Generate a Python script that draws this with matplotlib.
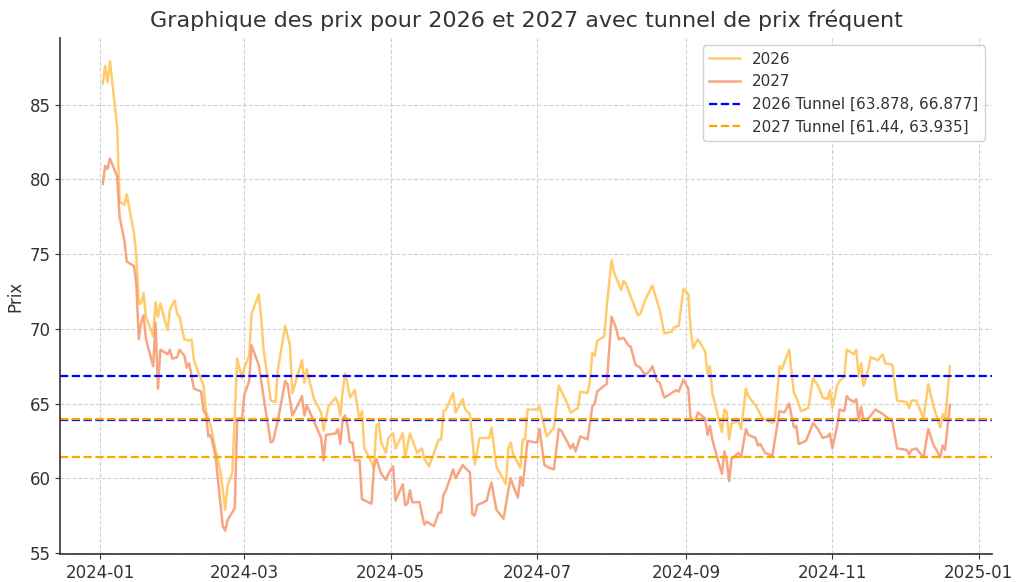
import matplotlib
matplotlib.use("Agg")
import matplotlib.pyplot as plt
import matplotlib.dates as mdates
import pandas as pd

# jours depuis le 2024-01-01 et prix
jours_2026 = [1, 2, 3, 4, 7, 8, 10, 11, 14, 15, 16, 17, 18, 19, 22, 23, 24, 25, 28, 29,
              31, 32, 33, 35, 37, 38, 39, 41, 43, 44, 46, 48, 50, 52, 53, 55, 57, 59, 60, 62,
              63, 66, 67, 68, 70, 71, 73, 74, 77, 79, 80, 82, 84, 85, 86, 87, 89, 92, 93, 94,
              95, 98, 99, 100, 101, 102, 103, 104, 106, 108, 109, 110, 112, 114, 115, 116, 117, 119, 120, 122,
              123, 126, 127, 129, 132, 134, 135, 137, 141, 142, 143, 144, 147, 148, 151, 152, 154, 156, 158, 162,
              163, 165, 169, 170, 171, 172, 175, 176, 177, 178, 182, 183, 186, 189, 191, 194, 196, 199, 200, 203,
              204, 205, 206, 207, 210, 211, 213, 214, 217, 218, 219, 224, 225, 227, 230, 233, 235, 238, 239, 241,
              243, 245, 246, 247, 249, 252, 253, 254, 255, 257, 259, 260, 261, 262, 263, 266, 267, 269, 270, 273,
              274, 276, 280, 281, 283, 284, 287, 289, 290, 292, 295, 297, 299, 301, 303, 304, 305, 307, 308, 310,
              311, 314, 315, 316, 317, 318, 320, 321, 324, 326, 327, 330, 332, 336, 337, 338, 340, 343, 345, 347,
              350, 351, 352, 354]
prix_2026 = [86.4, 87.6, 86.5, 87.9, 83.5, 78.5, 78.3, 79.0, 76.4, 74.8, 71.7, 71.7, 72.4, 70.8, 69.5, 71.8, 70.8, 71.7, 69.9, 71.3,
             71.9, 71.0, 70.8, 69.3, 69.2, 69.3, 67.9, 67.0, 66.2, 64.5, 63.5, 61.9, 60.5, 57.9, 59.5, 60.4, 68.0, 66.7, 67.4, 68.2,
             71.0, 72.3, 70.8, 68.6, 66.4, 65.2, 65.1, 67.3, 70.2, 68.9, 65.7, 66.8, 67.9, 66.4, 67.3, 66.6, 65.3, 64.4, 63.2, 64.0,
             64.8, 65.4, 65.0, 64.2, 65.9, 67.0, 66.3, 65.4, 65.9, 63.9, 64.5, 62.0, 61.4, 60.7, 63.5, 63.7, 62.4, 61.7, 62.7, 63.0,
             62.0, 63.0, 61.4, 63.0, 61.7, 62.0, 61.3, 60.8, 62.6, 62.6, 64.5, 64.6, 65.7, 64.4, 65.3, 64.6, 64.3, 60.9, 62.7, 62.7,
             63.4, 60.8, 59.6, 62.0, 62.4, 61.6, 60.7, 62.6, 62.6, 64.6, 64.6, 64.8, 62.8, 63.4, 66.2, 65.2, 64.4, 64.7, 65.8, 65.7,
             66.5, 68.4, 68.2, 69.2, 69.5, 71.5, 74.6, 73.8, 72.6, 73.2, 73.0, 70.9, 71.0, 71.9, 72.9, 71.3, 69.7, 69.8, 70.1, 70.2,
             72.7, 72.3, 69.9, 68.7, 69.3, 68.5, 67.0, 67.5, 65.7, 64.4, 63.1, 64.6, 64.4, 62.6, 63.7, 63.8, 63.3, 66.0, 65.5, 64.9,
             64.6, 64.0, 63.7, 63.8, 67.5, 67.3, 68.6, 65.7, 65.4, 64.5, 64.7, 66.7, 66.2, 65.4, 65.3, 65.9, 64.7, 66.2, 66.5, 66.8,
             68.6, 68.3, 68.6, 66.8, 67.7, 66.2, 67.3, 68.1, 67.9, 68.3, 67.7, 67.6, 65.2, 65.1, 64.7, 65.2, 65.2, 64.0, 66.3, 64.9,
             63.4, 64.3, 63.9, 67.5]

jours_2027 = [1, 2, 3, 4, 7, 8, 10, 11, 14, 15, 16, 17, 18, 19, 22, 23, 24, 25, 28, 29,
              30, 32, 33, 35, 36, 37, 39, 42, 43, 44, 45, 46, 48, 49, 51, 52, 53, 56, 57, 59,
              60, 62, 63, 65, 66, 69, 71, 72, 74, 77, 78, 80, 82, 84, 85, 86, 89, 92, 93, 94,
              98, 99, 100, 101, 102, 103, 104, 105, 106, 108, 109, 113, 114, 115, 117, 119, 120, 122, 123, 126,
              127, 128, 129, 130, 133, 134, 135, 136, 139, 141, 142, 143, 144, 147, 148, 149, 151, 152, 154, 155,
              156, 157, 161, 162, 163, 165, 168, 170, 171, 172, 174, 175, 176, 178, 181, 182, 183, 185, 187, 189,
              191, 192, 194, 196, 197, 198, 200, 203, 205, 206, 207, 210, 211, 213, 215, 216, 218, 220, 221, 223,
              225, 227, 229, 230, 232, 233, 235, 238, 240, 241, 243, 245, 246, 248, 249, 252, 253, 254, 255, 257,
              259, 260, 261, 262, 263, 266, 267, 269, 270, 273, 274, 275, 277, 280, 283, 285, 287, 289, 290, 291,
              294, 297, 299, 301, 303, 304, 305, 307, 308, 310, 311, 312, 314, 315, 316, 317, 318, 320, 323, 325,
              326, 330, 332, 336, 337, 338, 340, 343, 345, 347, 350, 351, 352, 354]
prix_2027 = [79.7, 80.9, 80.7, 81.4, 80.2, 77.5, 75.9, 74.5, 74.2, 73.0, 69.3, 70.4, 70.9, 69.3, 67.5, 70.4, 66.0, 68.6, 68.3, 68.6,
             68.0, 68.1, 68.6, 68.2, 67.4, 67.7, 66.0, 65.8, 64.5, 64.3, 62.8, 62.9, 61.5, 59.9, 56.8, 56.5, 57.2, 58.0, 64.0, 64.0,
             65.6, 66.5, 68.9, 68.0, 67.6, 64.4, 62.4, 62.5, 63.9, 66.5, 66.3, 64.2, 64.8, 65.5, 64.2, 64.9, 63.8, 62.7, 61.2, 62.9,
             63.0, 63.3, 62.3, 64.0, 64.2, 63.5, 62.4, 62.4, 61.2, 61.2, 58.6, 58.3, 60.8, 61.3, 60.3, 59.9, 60.3, 60.8, 58.5, 59.6,
             58.2, 58.3, 59.2, 58.4, 58.4, 57.6, 56.9, 57.1, 56.8, 57.7, 57.7, 58.9, 59.2, 60.6, 60.0, 60.3, 60.9, 60.7, 60.4, 57.6,
             57.5, 58.2, 58.5, 59.2, 59.7, 57.9, 57.3, 59.2, 60.0, 59.5, 58.7, 60.1, 59.5, 62.5, 62.4, 62.4, 63.3, 60.9, 60.7, 60.6,
             63.3, 63.2, 62.6, 62.0, 62.3, 61.8, 62.8, 62.6, 64.8, 65.0, 65.8, 66.2, 66.3, 70.8, 70.0, 69.3, 69.4, 68.9, 68.8, 67.6,
             67.4, 66.9, 67.2, 67.5, 66.5, 66.4, 65.4, 65.7, 65.9, 65.8, 66.6, 66.0, 63.9, 63.9, 64.4, 64.0, 62.9, 63.5, 62.6, 61.4,
             60.3, 61.8, 61.2, 59.8, 61.3, 61.7, 61.4, 63.3, 62.9, 62.7, 62.2, 62.3, 61.7, 61.5, 64.5, 64.4, 65.0, 63.4, 63.5, 62.3,
             62.5, 63.7, 63.3, 62.7, 62.8, 63.0, 62.0, 63.5, 64.6, 64.5, 65.5, 65.3, 65.1, 65.3, 63.8, 64.8, 63.9, 64.0, 64.6, 64.4,
             64.3, 63.8, 62.0, 61.9, 61.6, 61.9, 62.0, 61.4, 63.3, 62.3, 61.4, 62.2, 61.9, 64.9]

tunnel_2026 = [63.878, 66.877]
tunnel_2027 = [61.44, 63.935]

debut = pd.Timestamp("2024-01-01")
dates_2026 = debut + pd.to_timedelta(jours_2026, unit="D")
dates_2027 = debut + pd.to_timedelta(jours_2027, unit="D")

fig = plt.figure(figsize=(10.24, 5.82), dpi=100)
ax = fig.add_axes([0.059, 0.048, 0.91, 0.887])

ax.plot(dates_2026, prix_2026, color="#ffc65c", lw=1.8, alpha=0.9, label="2026")
ax.plot(dates_2027, prix_2027, color="#f59d76", lw=1.8, alpha=0.9, label="2027")

ax.axhline(tunnel_2026[0], color="blue", ls="--", lw=1.6,
           label="2026 Tunnel [%s, %s]" % (tunnel_2026[0], tunnel_2026[1]))
ax.axhline(tunnel_2026[1], color="blue", ls="--", lw=1.6)
ax.axhline(tunnel_2027[0], color="orange", ls="--", lw=1.6,
           label="2027 Tunnel [%s, %s]" % (tunnel_2027[0], tunnel_2027[1]))
ax.axhline(tunnel_2027[1], color="orange", ls="--", lw=1.6)

ax.xaxis.set_major_locator(mdates.MonthLocator(bymonth=[1, 3, 5, 7, 9, 11]))
ax.xaxis.set_major_formatter(mdates.DateFormatter("%Y-%m"))

ax.grid(True, ls="--", color="#d2d2d2", lw=0.8)
ax.set_axisbelow(True)
for s in ["top", "right"]:
    ax.spines[s].set_visible(False)
for s in ["left", "bottom"]:
    ax.spines[s].set_color("#333333")
    ax.spines[s].set_linewidth(1.2)
ax.tick_params(labelsize=12, colors="#333333")
ax.set_ylabel("Prix", fontsize=12, color="#333333")
ax.set_title("Graphique des prix pour 2026 et 2027 avec tunnel de prix fréquent",
             fontsize=16, color="#333333", pad=8)
leg = ax.legend(loc="upper right", fontsize=11, framealpha=0.9)
for t in leg.get_texts():
    t.set_color("#333333")

fig.savefig("out.png", dpi=100)
